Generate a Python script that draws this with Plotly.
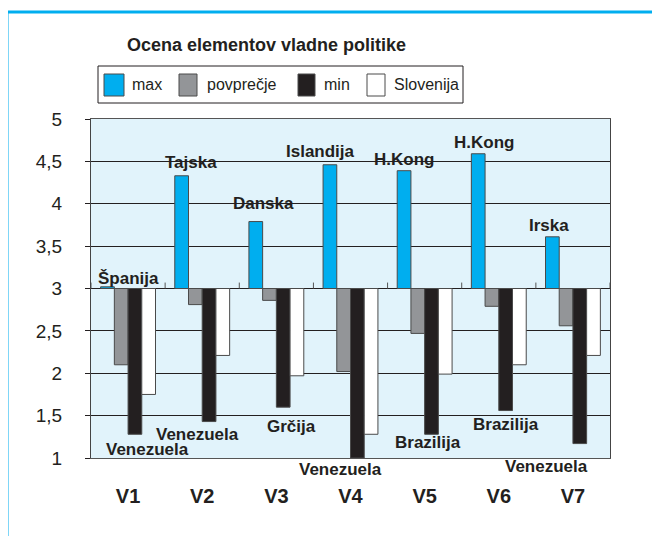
import plotly.graph_objects as go

categories = ["V1", "V2", "V3", "V4", "V5", "V6", "V7"]
max_vals = [3.02, 4.33, 3.79, 4.46, 4.39, 4.59, 3.61]
avg_vals = [2.10, 2.81, 2.86, 2.02, 2.47, 2.79, 2.56]
min_vals = [1.28, 1.43, 1.60, 1.00, 1.28, 1.56, 1.17]
slo_vals = [1.75, 2.21, 1.97, 1.28, 1.99, 2.10, 2.21]

max_countries = ["Španija", "Tajska", "Danska", "Islandija", "H.Kong", "H.Kong", "Irska"]
min_countries = ["Venezuela", "Venezuela", "Grčija", "Venezuela", "Brazilija", "Brazilija", "Venezuela"]

series_names = ["max", "povprečje", "min", "Slovenija"]
series_colors = ["#00aeef", "#939598", "#231f20", "#ffffff"]

y_ticks = [1, 1.5, 2, 2.5, 3, 3.5, 4, 4.5, 5]
y_ticktext = [str(v).replace(".", ",") for v in y_ticks]

BASE = 3
YMIN, YMAX = 1, 5
W, H = 660, 536
OFF = 8  # page body margin
PL, PR, PT, PB = 91 - OFF, 610 - OFF, 119 - OFF, 458 - OFF

FONT = "Liberation Sans, Arial, sans-serif"
DARK = "#231f20"

fig = go.Figure()
for name, vals, col in zip(series_names, [max_vals, avg_vals, min_vals, slo_vals], series_colors):
    fig.add_trace(go.Bar(
        x=list(range(len(categories))),
        y=[v - BASE for v in vals],
        base=BASE,
        name=name,
        marker=dict(color=col, line=dict(color="#4a4a4a", width=1)),
        showlegend=False,
    ))

def px(x):
    return (x - OFF - PL) / (PR - PL)

def py(y):
    return (PB - (y - OFF)) / (PB - PT)

def dx(x):
    return (x + 0.5) / len(categories)

def dy(y):
    return (y - YMIN) / (YMAX - YMIN)

shapes = []
annotations = []

# outer blue frame (left and top visible)
shapes.append(dict(type="rect", xref="paper", yref="paper",
                   x0=px(7), x1=px(720), y0=py(12), y1=py(600),
                   line=dict(color="#00aeef", width=3), layer="below"))

# tick marks at category boundaries on the y=3 line
for i in range(len(categories) + 1):
    shapes.append(dict(type="line", xref="x", yref="y",
                       x0=i - 0.5, x1=i - 0.5, y0=BASE, y1=BASE + 0.07,
                       line=dict(color="#555555", width=1)))

# manual legend
shapes.append(dict(type="rect", xref="paper", yref="paper",
                   x0=px(98), x1=px(463), y0=py(103), y1=py(66),
                   line=dict(color=DARK, width=1), fillcolor="white"))
leg_sw = [(104, 124), (179, 197), (298, 315), (367, 385)]
leg_tx = [130, 205, 322, 392]
for (a, b), tx, name, col in zip(leg_sw, leg_tx, series_names, series_colors):
    shapes.append(dict(type="rect", xref="paper", yref="paper",
                       x0=px(a), x1=px(b), y0=py(96), y1=py(74),
                       line=dict(color="#4a4a4a", width=1), fillcolor=col))
    annotations.append(dict(xref="paper", yref="paper", x=px(tx), y=py(85),
                            text=name, showarrow=False, xanchor="left", yanchor="middle",
                            font=dict(family=FONT, size=16, color=DARK)))

# country labels (positions in category / value units)
max_pos = [(0.01, 3.12), (0.85, 4.49), (1.82, 4.0), (2.59, 4.62), (3.72, 4.52), (4.80, 4.72), (5.68, 3.74)]
min_pos = [(0.26, 1.10), (0.94, 1.28), (2.21, 1.37), (2.87, 0.87), (4.05, 1.18), (5.10, 1.39), (5.65, 0.90)]
for txt, (x, y) in list(zip(max_countries, max_pos)) + list(zip(min_countries, min_pos)):
    annotations.append(dict(xref="paper", yref="paper", x=dx(x), y=dy(y), text="<b>%s</b>" % txt,
                            showarrow=False, xanchor="center", yanchor="middle",
                            font=dict(family=FONT, size=17, color=DARK)))

# title
annotations.append(dict(xref="paper", yref="paper", x=px(266), y=py(45),
                        text="<b>Ocena elementov vladne politike</b>", showarrow=False,
                        xanchor="center", yanchor="middle",
                        font=dict(family=FONT, size=18, color=DARK)))

fig.update_layout(
    width=W, height=H,
    margin=dict(l=PL, r=W - PR, t=PT, b=H - PB, pad=0),
    paper_bgcolor="white",
    plot_bgcolor="#e1f3fb",
    barmode="group",
    bargap=0.26,
    bargroupgap=0,
    shapes=shapes,
    annotations=annotations,
    xaxis=dict(
        tickmode="array",
        tickvals=list(range(len(categories))),
        ticktext=["<b>%s</b>" % c for c in categories],
        range=[-0.5, len(categories) - 0.5],
        showgrid=False, zeroline=False,
        showline=True, linecolor="#555555", linewidth=1, mirror=True,
        ticks="", ticklabelstandoff=20,
        tickfont=dict(family=FONT, size=20, color=DARK),
    ),
    yaxis=dict(
        tickmode="array", tickvals=y_ticks, ticktext=y_ticktext,
        range=[YMIN, YMAX],
        showgrid=True, gridcolor=DARK, gridwidth=1,
        zeroline=False,
        showline=True, linecolor="#444444", linewidth=1, mirror=True,
        ticks="outside", ticklen=5, tickcolor=DARK, ticklabelstandoff=19,
        tickfont=dict(family=FONT, size=19, color=DARK),
    ),
)

fig.write_html("out.html")
